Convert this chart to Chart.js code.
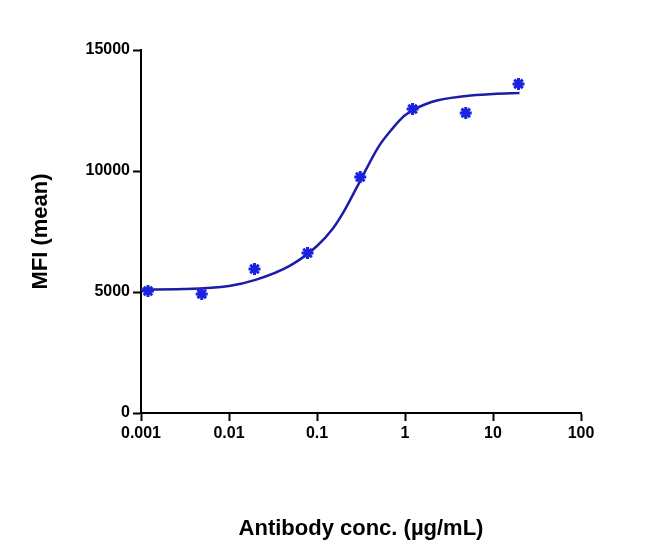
<!DOCTYPE html>
<html><head><script src="https://cdn.jsdelivr.net/npm/chart.js@4"></script>
<style>body{margin:0;background:#fff}#w{width:650px;height:546px}</style></head>
<body><div id="w"><canvas id="c"></canvas></div>
<script>
const concX=[0.0012,0.0049,0.0195,0.078,0.31,1.22,4.9,19.5];
const mfi=[5040,4920,5950,6610,9750,12560,12400,13600];
const fitX=[0.001,0.003,0.01,0.02,0.05,0.1,0.15,0.2,0.3,0.5,0.7,1,2,5,10,20];
const fitY=[5100,5120,5250,5500,6100,6900,7600,8300,9500,11000,11700,12300,12850,13100,13180,13220];
const xTicks=[0.001,0.01,0.1,1,10,100];
const yTicks=[0,5000,10000,15000];
const font={family:'Arial, Liberation Sans',weight:'bold',size:16};
new Chart(document.getElementById('c'),{
type:'scatter',
data:{datasets:[
{data:concX.map((x,i)=>({x,y:mfi[i]})),pointStyle:'star',radius:6,borderWidth:3,borderColor:'#1a22e0',backgroundColor:'#1a22e0',order:0},
{data:fitX.map((x,i)=>({x,y:fitY[i]})),showLine:true,cubicInterpolationMode:'monotone',borderColor:'#1c1ca8',borderWidth:2.5,pointRadius:0,order:1}
]},
options:{responsive:true,maintainAspectRatio:false,animation:false,
layout:{padding:{top:50,right:69,left:24}},
plugins:{legend:{display:false},tooltip:{enabled:false}},
scales:{
x:{type:'logarithmic',min:0.001,max:100,
afterBuildTicks:s=>{s.ticks=xTicks.map(v=>({value:v}));},
afterFit:s=>{s.height=133;},
grid:{display:true,drawOnChartArea:false,drawTicks:true,tickLength:8,tickColor:'#000',tickWidth:2},
border:{color:'#000',width:2},
ticks:{color:'#000',font,autoSkip:false,maxRotation:0,callback:v=>String(v)},
title:{display:true,text:'Antibody conc. (µg/mL)',color:'#000',font:{family:'Arial, Liberation Sans',weight:'bold',size:22},padding:{top:28}}},
y:{min:0,max:15000,
afterBuildTicks:s=>{s.ticks=yTicks.map(v=>({value:v}));},
afterFit:s=>{s.width=117;},
grid:{display:true,drawOnChartArea:false,tickLength:8,tickColor:'#000',tickWidth:2},
border:{color:'#000',width:2},
ticks:{color:'#000',font,callback:v=>String(v)},
title:{display:true,text:'MFI (mean)',color:'#000',font:{family:'Arial, Liberation Sans',weight:'bold',size:22},padding:{bottom:10}}}
}}});
</script></body></html>
